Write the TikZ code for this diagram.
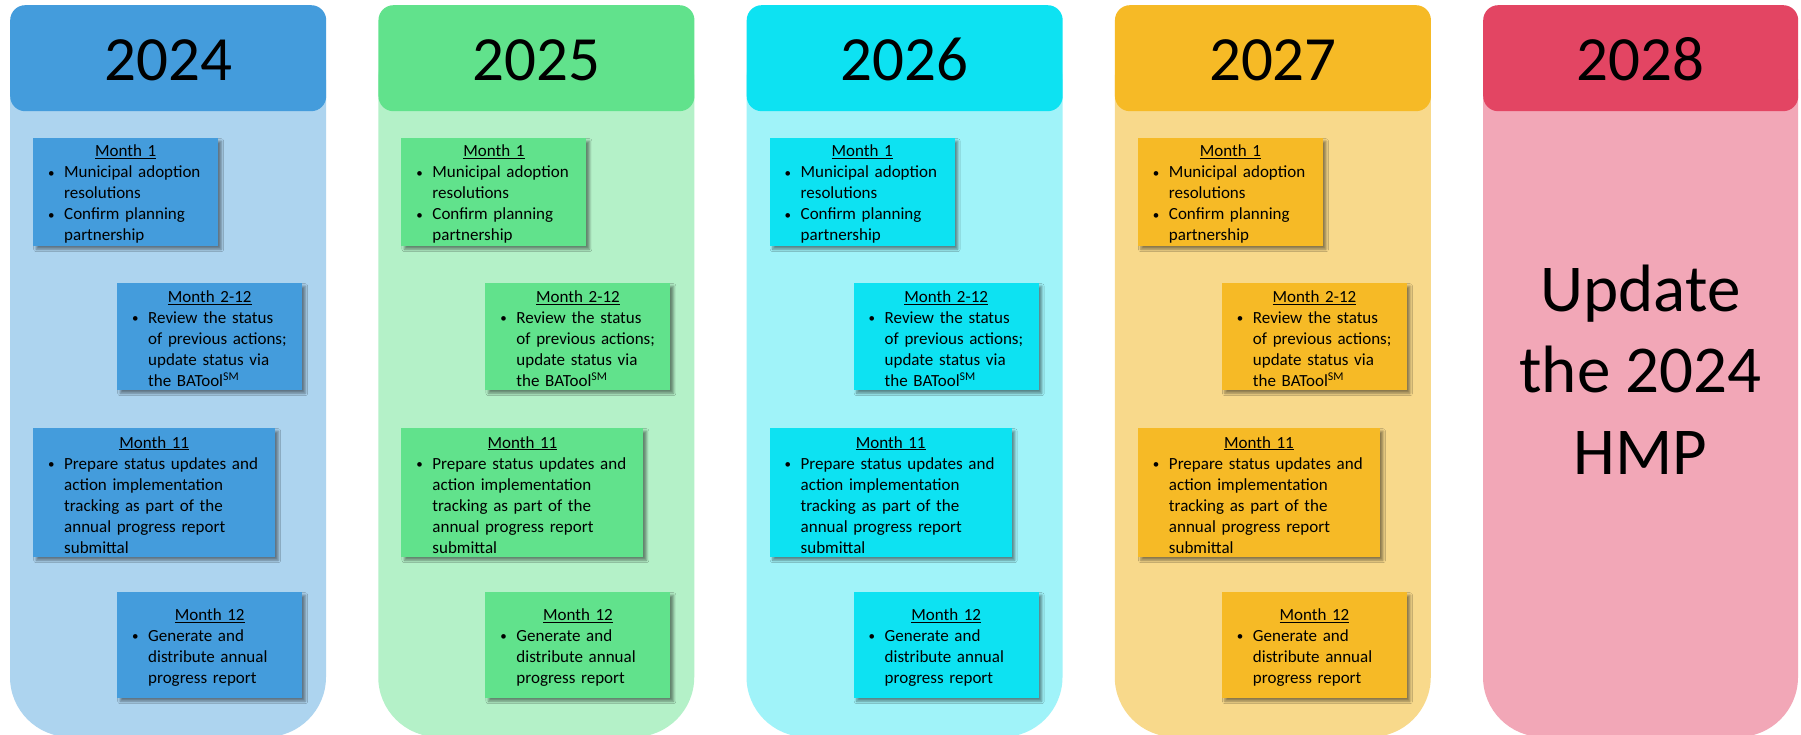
\documentclass[tikz,border=0pt]{standalone}
\usepackage{fontspec}
\setmainfont{Carlito}
\usetikzlibrary{shadows.blur}
\definecolor{h24}{HTML}{449CDC}
\definecolor{b24}{HTML}{ADD4EF}
\definecolor{h25}{HTML}{61E28C}
\definecolor{b25}{HTML}{B4F1C8}
\definecolor{h26}{HTML}{0DE2F2}
\definecolor{b26}{HTML}{A0F3F9}
\definecolor{h27}{HTML}{F6BA26}
\definecolor{b27}{HTML}{F8D98B}
\definecolor{h28}{HTML}{E34563}
\definecolor{b28}{HTML}{F2A7B7}
\newcommand{\mtitle}[1]{\rule{0pt}{16pt}\makebox[\linewidth][c]{\underline{#1}}}
\newcommand{\smallbul}{{\fontsize{13}{13}\selectfont\raisebox{0.8pt}{\textbullet}}}
\newcommand{\bline}[1]{\hspace*{15pt}\makebox[16pt][l]{\smallbul}#1}
\newcommand{\contline}[1]{\hspace*{31pt}#1}
\begin{document}
\begin{tikzpicture}[x=1pt,y=-1pt,
  header/.style={rounded corners=15pt, minimum width=316pt, minimum height=106pt,
    anchor=north west, inner sep=0pt, text height=44pt, text depth=0pt,
    font=\fontsize{63}{70}\selectfont},
  mbox/.style={anchor=north west, inner sep=0pt, align=left,
    font=\fontsize{17}{21}\selectfont,
    blur shadow={shadow xshift=3pt, shadow yshift=-3pt, shadow blur radius=2.5pt, shadow opacity=45}}]
\fill[white] (0,0) rectangle (1801,735);
\useasboundingbox (0,0) rectangle (1801,735);
\foreach \i/\c in {0/24,1/25,2/26,3/27} {
  \pgfmathsetmacro\L{10+368.25*\i}
  \fill[b\c, rounded corners=60pt] (\L,20) rectangle (\L+316,737);
  \node[header, fill=h\c] (hd\c) at (\L,5) {20\c};
  \node[mbox, fill=h\c, text width=185pt, minimum height=108pt] (ma\c) at (\L+23,138)
    {\mtitle{Month 1}\\
     \bline{Municipal adoption}\\
     \contline{resolutions}\\
     \bline{Confirm planning}\\
     \contline{partnership}};
  \node[mbox, fill=h\c, text width=185pt, minimum height=107pt] (mb\c) at (\L+107,283)
    {\mtitle{Month 2-12}\\
     \bline{Review the status}\\
     \contline{of previous actions;}\\
     \contline{update status via}\\
     \contline{the BATool\textsuperscript{SM}}};
  \node[mbox, fill=h\c, text width=242pt, minimum height=129pt] (mc\c) at (\L+23,428)
    {\mtitle{Month 11}\\
     \bline{Prepare status updates and}\\
     \contline{action implementation}\\
     \contline{tracking as part of the}\\
     \contline{annual progress report}\\
     \contline{submittal}};
  \node[mbox, fill=h\c, text width=185pt, minimum height=106pt] (md\c) at (\L+107,592)
    {\mtitle{Month 12}\\
     \bline{Generate and}\\
     \contline{distribute annual}\\
     \contline{progress report}};
}
\fill[b28, rounded corners=60pt] (1483,20) rectangle (1798,737);
\node[header, fill=h28, minimum width=315pt] (hd28) at (1483,5) {2028};
\node[anchor=base, align=center, inner sep=0pt, font=\fontsize{67}{81.5}\selectfont] (upd) at (1640.5,474)
  {Update\\the 2024\\HMP};
\end{tikzpicture}
\end{document}
